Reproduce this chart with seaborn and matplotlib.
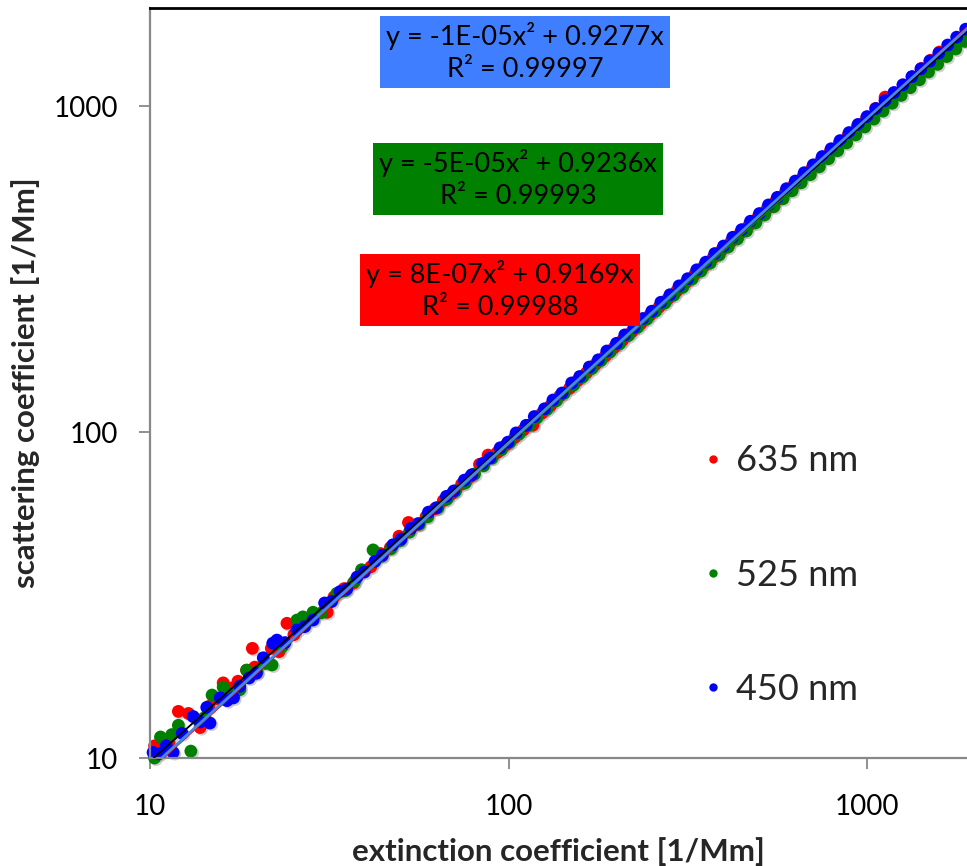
import numpy as np
import pandas as pd
import matplotlib
matplotlib.use("Agg")
import matplotlib.pyplot as plt
import matplotlib.patheffects as pe
from matplotlib.lines import Line2D
import seaborn as sns

# Extinction vs. scattering coefficients [1/Mm] per wavelength
red_ext = [10.3, 10.8, 11.3, 12.0, 12.8, 13.8, 14.6, 15.4, 16.0, 16.9, 17.6, 18.6, 19.3, 19.6,
           21.8, 22.9, 24.1, 25.2, 26.9, 28.6, 31.2, 32.6, 34.8, 36.9, 39.1, 41.3, 43.9, 46.8,
           49.5, 52.6, 55.7, 58.9, 62.3, 65.8, 69.5, 74.0, 78.2, 83.0, 87.7, 93.1, 98.5, 104,
           110, 117, 124, 131, 139, 148, 156, 165, 175, 186, 197, 208, 221, 234, 248, 263, 278,
           295, 313, 331, 351, 372, 394, 418, 443, 469, 497, 527, 558, 592, 627, 664, 704, 746,
           790, 837, 887, 940, 996, 1056, 1123, 1190, 1262, 1337, 1418, 1502, 1592]
red_sca = [10.9, 10.5, 11.1, 13.9, 13.7, 12.4, 14.4, 15.2, 17.0, 16.4, 17.2, 18.6, 21.7, 19.0,
           21.7, 21.2, 25.9, 23.9, 25.8, 27.0, 28.0, 31.2, 33.1, 34.4, 37.7, 38.6, 42.4, 44.2,
           47.9, 52.8, 52.0, 55.0, 58.1, 61.6, 64.7, 69.2, 72.9, 79.6, 85.0, 86.6, 91.4, 96.2,
           101.5, 105.0, 114.3, 120.5, 129.0, 136.2, 144.1, 152.0, 161.5, 171.0, 181.6, 191.4,
           203.5, 215.3, 228.5, 242.0, 256.1, 271.5, 288.0, 305.0, 323.2, 342.6, 362.9, 384.8,
           408.0, 432.0, 457.8, 485.4, 514.0, 545.1, 577.6, 611.5, 648.5, 687.0, 727.6, 771.0,
           817.0, 866.0, 917.5, 984.0, 1066, 1098, 1160, 1230, 1305, 1383, 1466]

green_ext = [10.3, 10.7, 11.5, 12.0, 13.0, 13.6, 14.2, 14.9, 16.0, 16.9, 17.8, 18.6, 19.9, 21.0,
             21.9, 23.4, 25.7, 26.7, 28.5, 30.1, 33.2, 35.0, 37.2, 38.9, 41.9, 44.3, 46.9, 49.8,
             52.9, 56.4, 59.5, 63.6, 67.4, 71.2, 75.8, 80.4, 85.2, 90.0, 95.6, 101, 107, 114,
             120, 128, 136, 143, 152, 161, 171, 181, 192, 204, 216, 229, 243, 257, 273, 289, 306,
             325, 344, 365, 387, 410, 435, 461, 489, 518, 550, 583, 618, 655, 695, 736, 781, 828,
             877, 930, 986, 1045, 1108, 1175, 1245, 1320, 1400, 1484, 1573, 1668, 1768, 1875]
green_sca = [10.0, 11.6, 11.8, 12.6, 10.5, 13.1, 13.3, 15.6, 16.5, 15.7, 16.2, 18.6, 18.4, 19.5,
             19.3, 22.0, 26.5, 27.1, 28.0, 27.9, 32.0, 32.6, 34.8, 37.8, 43.5, 41.6, 43.8, 46.4,
             49.3, 52.2, 55.0, 58.6, 62.3, 66.0, 69.9, 74.4, 78.8, 83.2, 88.3, 93.2, 98.6, 104.8,
             110.5, 117.5, 124.8, 131.6, 139.5, 147.6, 156.7, 165.8, 176.0, 186.5, 197.8, 209.5,
             222.0, 234.8, 248.8, 263.1, 278.0, 294.8, 311.7, 330.0, 349.4, 369.8, 391.5, 414.2,
             438.5, 463.8, 491.5, 520.0, 550.0, 582.0, 616.5, 651.5, 690.0, 730.0, 771.5, 816.5,
             863.5, 913.0, 966.0, 1021, 1079, 1140, 1205, 1273, 1344, 1420, 1498, 1580]

blue_ext = [10.2, 10.6, 11.1, 11.6, 12.3, 13.2, 13.8, 14.4, 14.7, 15.7, 16.4, 17.1, 17.8, 18.9,
            19.8, 20.7, 22.0, 22.6, 23.8, 25.7, 27.0, 28.5, 30.7, 32.1, 33.9, 35.4, 37.8, 39.6,
            42.4, 44.5, 47.6, 50.2, 53.4, 56.0, 59.8, 62.9, 67.1, 70.4, 75.3, 79.0, 84.6, 88.7,
            94.8, 99.6, 105, 112, 118, 126, 133, 141, 150, 158, 168, 178, 188, 200, 211, 224, 237,
            251, 266, 282, 299, 316, 335, 355, 376, 398, 422, 447, 473, 501, 531, 562, 596, 631,
            668, 708, 750, 794, 841, 891, 944, 1000, 1059, 1122, 1189, 1259, 1334, 1413, 1496,
            1585, 1679, 1778, 1884]
blue_sca = [10.4, 10.3, 10.9, 10.4, 11.9, 13.4, 12.9, 14.3, 12.8, 15.3, 15.0, 15.3, 16.6, 17.6,
            18.2, 20.3, 22.5, 23.0, 22.6, 24.7, 25.3, 26.5, 29.9, 30.2, 32.4, 33.0, 35.9, 37.2,
            40.1, 41.9, 45.1, 47.0, 50.6, 52.4, 56.8, 58.6, 63.5, 66.0, 71.2, 74.0, 80.1, 83.2,
            89.5, 93.1, 99.4, 104.9, 111.6, 117.9, 125.4, 131.8, 141.5, 148.1, 158.3, 166.6,
            177.3, 187.2, 198.7, 209.6, 223.1, 234.9, 250.2, 263.9, 280.9, 295.5, 314.7, 332.1,
            353.0, 372.3, 396.0, 418.0, 443.6, 468.3, 497.6, 525.0, 558.1, 589.2, 624.9, 660.6,
            700.5, 740.1, 784.0, 829.7, 879.0, 929.0, 983.0, 1040, 1101, 1163, 1232, 1302, 1375,
            1454, 1540, 1628, 1722]

wavelengths = ["635 nm", "525 nm", "450 nm"]
point_colors = ["#FF0000", "#008000", "#0000FF"]
line_colors = ["#FF0000", "#008000", "#4A86E8"]
box_colors = ["#FF0000", "#008000", "#3F7FFF"]

# Quadratic trend lines y = a*x^2 + b*x and their R^2
fit_a = [8e-07, -5e-05, -1e-05]
fit_b = [0.9169, 0.9236, 0.9277]
fit_r2 = [0.99988, 0.99993, 0.99997]
fit_a_text = ["8E-07", "-5E-05", "-1E-05"]

x_ticks = [10, 100, 1000]
y_ticks = [10, 100, 1000]

sns.set_style("white")
plt.rcParams["font.family"] = ["Lato", "DejaVu Sans"]

df = pd.concat([
    pd.DataFrame({"ext": red_ext, "sca": red_sca, "wl": wavelengths[0]}),
    pd.DataFrame({"ext": green_ext, "sca": green_sca, "wl": wavelengths[1]}),
    pd.DataFrame({"ext": blue_ext, "sca": blue_sca, "wl": wavelengths[2]}),
], ignore_index=True)

fig = plt.figure(figsize=(9.67, 8.66), dpi=100)
ax = fig.add_axes([0.1551, 0.1247, 0.8449, 0.866])
ax.set_xscale("log")
ax.set_yscale("log")

sns.scatterplot(data=df, x="ext", y="sca", hue="wl", hue_order=wavelengths,
                palette=point_colors, s=85, linewidth=0, legend=False, ax=ax,
                clip_on=False, zorder=2)
ax.collections[0].set_path_effects([
    pe.SimplePatchShadow(offset=(1.2, -1.2), shadow_rgbFace="#777777", alpha=0.35),
    pe.Normal(),
])

# Power-law fit of all wavelengths pooled
all_x = np.log10(df["ext"].to_numpy())
all_y = np.log10(df["sca"].to_numpy())
slope, icpt = np.polyfit(all_x, all_y, 1)
xs = np.geomspace(10, 1900, 200)
ax.plot(xs, 10 ** (icpt + slope * np.log10(xs)), color="black", lw=1.3, zorder=3)

for a, b, c, lw in zip(fit_a, fit_b, line_colors, [1.2, 1.2, 2.0]):
    ax.plot(xs, a * xs ** 2 + b * xs, color=c, lw=lw, zorder=4)

ax.set_xlim(10, 1900)
ax.set_ylim(10, 2000)
ax.xaxis.set_minor_locator(matplotlib.ticker.NullLocator())
ax.yaxis.set_minor_locator(matplotlib.ticker.NullLocator())
ax.set_xticks(x_ticks)
ax.set_xticklabels([str(t) for t in x_ticks])
ax.set_yticks(y_ticks)
ax.set_yticklabels([str(t) for t in y_ticks])
ax.tick_params(axis="both", which="major", direction="out", length=8, width=1.3,
               color="#888888", labelsize=20, labelcolor="black")
ax.tick_params(axis="x", pad=18, bottom=True)
ax.tick_params(axis="y", pad=15, left=True)

for side in ["left", "bottom"]:
    ax.spines[side].set_color("#888888")
    ax.spines[side].set_linewidth(1.6)
ax.spines["right"].set_visible(False)
ax.spines["top"].set_color("black")
ax.spines["top"].set_linewidth(2.0)

ax.set_xlabel("extinction coefficient [1/Mm]", fontsize=22.5, fontweight="bold", labelpad=12)
ax.set_ylabel("scattering coefficient [1/Mm]", fontsize=22.5, fontweight="bold", labelpad=10)

# Trend equations in coloured boxes
box_pos = [(0.5171, 0.6651), (0.5357, 0.7933), (0.5429, 0.940)]
for i in range(3):
    label = f"y = {fit_a_text[i]}x\u00b2 + {fit_b[i]}x\nR\u00b2 = {fit_r2[i]}"
    fig.text(box_pos[i][0], box_pos[i][1], label, transform=fig.transFigure,
             ha="center", va="center", fontsize=19.5, linespacing=1.35, color="black",
             bbox=dict(boxstyle="square,pad=0.22", facecolor=box_colors[i], edgecolor="none"),
             zorder=5)

handles = [Line2D([], [], linestyle="none", marker="o", markersize=6, color=c,
                  markeredgewidth=0) for c in point_colors]
ax.legend(handles, wavelengths, loc="center left", bbox_to_anchor=(0.689, 0.336),
          bbox_transform=fig.transFigure, frameon=False, fontsize=26,
          labelspacing=2.25, handlelength=0.8, handletextpad=0.24, borderpad=0.4)

fig.savefig("out.png", dpi=100)
